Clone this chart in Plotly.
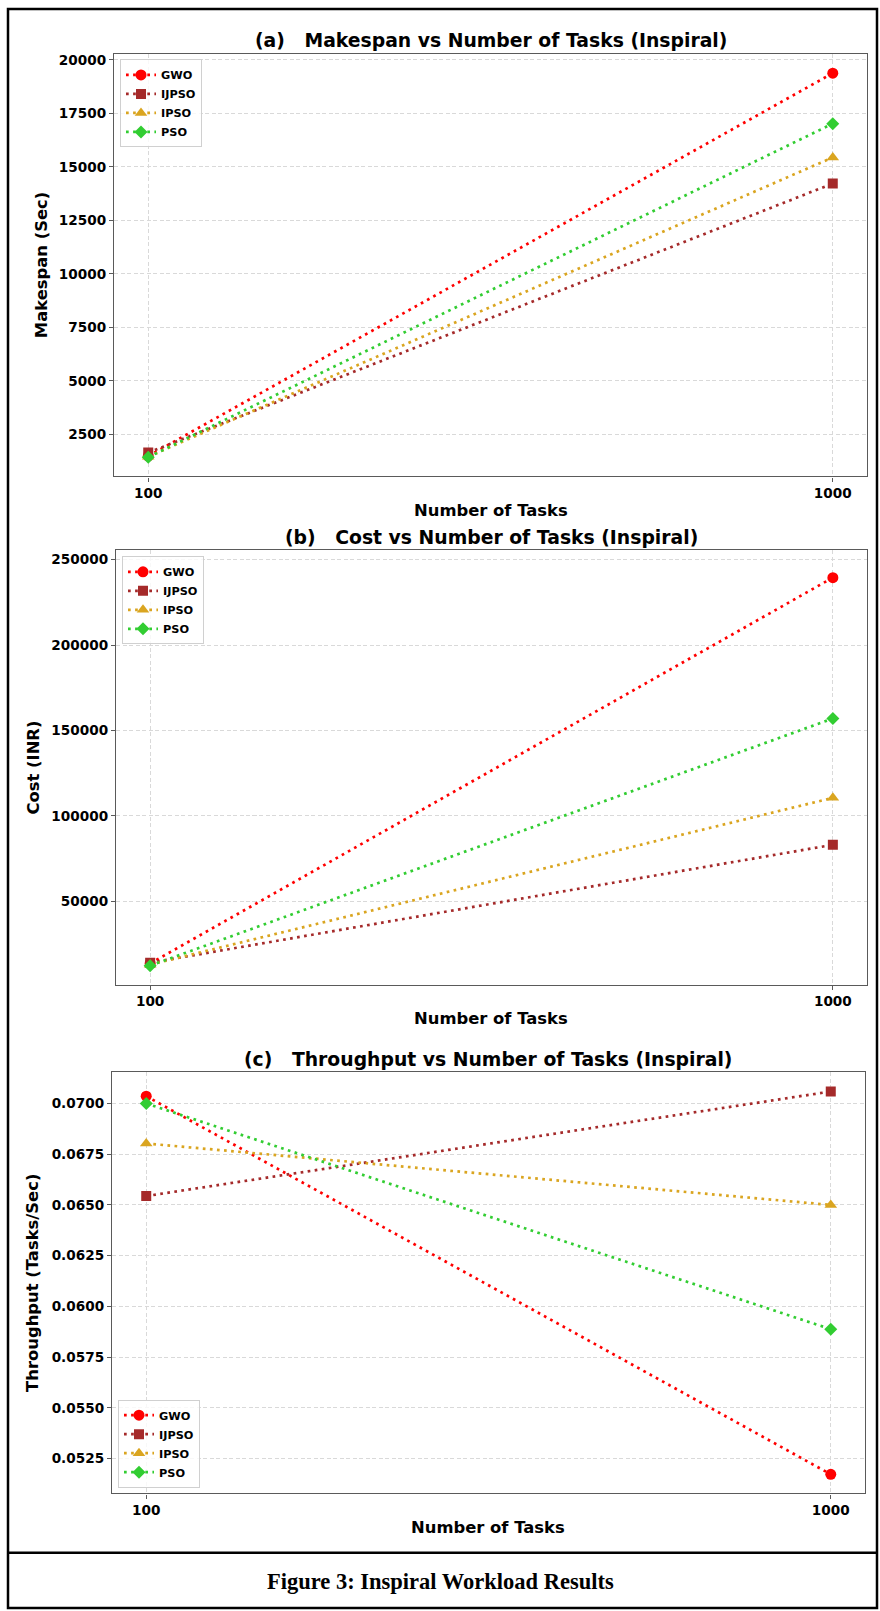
import plotly.graph_objects as go

# ---------------- data ----------------
tasks = [100, 1000]
algorithms = ["GWO", "IJPSO", "IPSO", "PSO"]

makespan_gwo = [1480, 19380]
makespan_ijpso = [1640, 14220]
makespan_ipso = [1450, 15440]
makespan_pso = [1425, 17020]

cost_gwo = [13500, 239500]
cost_ijpso = [13900, 83000]
cost_ipso = [12800, 110500]
cost_pso = [12200, 157000]

thr_gwo = [0.07036, 0.05173]
thr_ijpso = [0.06544, 0.07059]
thr_ipso = [0.06803, 0.06500]
thr_pso = [0.07000, 0.05888]

y_ticks_a = [2500, 5000, 7500, 10000, 12500, 15000, 17500, 20000]
y_ticks_b = [50000, 100000, 150000, 200000, 250000]
y_ticks_c = [0.0525, 0.0550, 0.0575, 0.0600, 0.0625, 0.0650, 0.0675, 0.0700]
x_ticks = [100, 1000]

colors = {"GWO": "red", "IJPSO": "brown", "IPSO": "goldenrod", "PSO": "limegreen"}
symbols = {"GWO": "circle", "IJPSO": "square", "IPSO": "triangle-up", "PSO": "diamond"}
msizes = {"GWO": 11, "IJPSO": 10, "IPSO": 11, "PSO": 10}

W, H = 880, 1611


def px(x):
    return x / W


def py(y):
    return 1 - y / H


panels = [
    dict(series=[makespan_gwo, makespan_ijpso, makespan_ipso, makespan_pso],
         title="(a)   Makespan vs Number of Tasks (Inspiral)", ylabel="Makespan (Sec)",
         ticks=y_ticks_a, fmt="d", box=(114, 867, 52, 475), ylab_x=41,
         yr=None, legend=dict(x=120, y=57.5, anchor="top")),
    dict(series=[cost_gwo, cost_ijpso, cost_ipso, cost_pso],
         title="(b)   Cost vs Number of Tasks (Inspiral)", ylabel="Cost (INR)",
         ticks=y_ticks_b, fmt="d", box=(116, 867, 549, 984), ylab_x=34,
         yr=[1000, 255500], legend=dict(x=122, y=555, anchor="top")),
    dict(series=[thr_gwo, thr_ijpso, thr_ipso, thr_pso],
         title="(c)   Throughput vs Number of Tasks (Inspiral)", ylabel="Throughput (Tasks/Sec)",
         ticks=y_ticks_c, fmt=".4f", box=(112, 865, 1071.7, 1493.3), ylab_x=33,
         yr=None, legend=dict(x=118, y=1487.5, anchor="bottom")),
]

fig = go.Figure()
annotations = []
layout_axes = {}

for i, p in enumerate(panels, start=1):
    xa = "x" if i == 1 else f"x{i}"
    ya = "y" if i == 1 else f"y{i}"
    lg = "legend" if i == 1 else f"legend{i}"
    for name, vals in zip(algorithms, p["series"]):
        fig.add_trace(go.Scatter(
            x=tasks, y=vals, name=name, mode="lines+markers",
            xaxis=xa, yaxis=ya, legend=lg,
            line=dict(color=colors[name], width=2.7, dash="2.7px,4.4px"),
            marker=dict(symbol=symbols[name], size=msizes[name], color=colors[name]),
        ))
    allv = [v for s in p["series"] for v in s]
    lo, hi = min(allv), max(allv)
    pad = 0.05 * (hi - lo)
    yr = p["yr"] if p["yr"] else [lo - pad, hi + pad]
    x0, x1, y0, y1 = p["box"]
    axis_common = dict(
        showline=True, mirror=True, linecolor="#5a5a5a", linewidth=1.3,
        ticks="outside", ticklen=4, tickwidth=1.1, tickcolor="#5a5a5a",
        showgrid=True, gridcolor="#d9d9d9", gridwidth=0.9, griddash="4px,2.5px",
        zeroline=False,
        tickfont=dict(family="DejaVu Sans", size=13.6, color="black", weight="bold"),
    )
    layout_axes["xaxis" if i == 1 else f"xaxis{i}"] = dict(
        domain=[px(x0), px(x1)], anchor=ya, range=[55, 1045],
        tickmode="array", tickvals=x_ticks, ticktext=[str(t) for t in x_ticks],
        **axis_common)
    layout_axes["yaxis" if i == 1 else f"yaxis{i}"] = dict(
        domain=[py(y1), py(y0)], anchor=xa, range=yr,
        tickmode="array", tickvals=p["ticks"], tickformat=p["fmt"],
        **axis_common)
    cx = (x0 + x1) / 2
    annotations.append(dict(text="<b>" + p["title"] + "</b>", x=px(cx), y=py(y0 - 13),
                            xref="paper", yref="paper", xanchor="center", yanchor="middle",
                            showarrow=False,
                            font=dict(family="DejaVu Sans", size=18.8, color="black")))
    annotations.append(dict(text="<b>Number of Tasks</b>", x=px(cx), y=py(y1 + 34),
                            xref="paper", yref="paper", xanchor="center", yanchor="middle",
                            showarrow=False,
                            font=dict(family="DejaVu Sans", size=16.4, color="black")))
    annotations.append(dict(text="<b>" + p["ylabel"] + "</b>", x=px(p["ylab_x"]), y=py((y0 + y1) / 2),
                            xref="paper", yref="paper", xanchor="center", yanchor="middle",
                            textangle=-90, showarrow=False,
                            font=dict(family="DejaVu Sans", size=16.4, color="black")))
    L = p["legend"]
    layout_axes[lg] = dict(
        x=px(L["x"]), y=py(L["y"]), xanchor="left", yanchor=L["anchor"],
        bgcolor="rgba(255,255,255,0.8)", bordercolor="#d0d0d0", borderwidth=1,
        font=dict(family="DejaVu Sans", size=11.3, color="black", weight="bold"),
        itemwidth=30, tracegroupgap=0,
    )

annotations.append(dict(text="<b>Figure 3: Inspiral Workload Results</b>", x=0.5, y=py(1581),
                        xref="paper", yref="paper", xanchor="center", yanchor="middle",
                        showarrow=False,
                        font=dict(family="Liberation Serif", size=22.5, color="black")))

shapes = [
    dict(type="rect", xref="paper", yref="paper", x0=px(8), x1=px(877), y0=py(1608), y1=py(7),
         line=dict(color="black", width=2.5)),
    dict(type="line", xref="paper", yref="paper", x0=px(8), x1=px(877), y0=py(1552.7), y1=py(1552.7),
         line=dict(color="black", width=2.5)),
]

fig.update_layout(
    width=W, height=H, margin=dict(l=0, r=0, t=0, b=0),
    paper_bgcolor="white", plot_bgcolor="white",
    showlegend=True, annotations=annotations, shapes=shapes,
    **layout_axes,
)

fig.write_html(
    "out.html",
    config={"displayModeBar": False},
    post_script="document.body.style.margin='0';document.body.style.padding='0';"
                "document.documentElement.style.overflow='hidden';",
)
